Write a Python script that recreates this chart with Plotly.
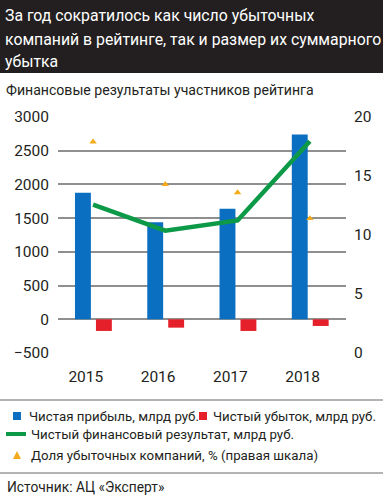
import plotly.graph_objects as go

years = ["2015", "2016", "2017", "2018"]
net_profit = [1875, 1440, 1640, 2740]
net_loss = [-173, -124, -173, -99]
net_result = [1700, 1315, 1465, 2640]
loss_share = [17.9, 14.3, 13.6, 11.4]

W, H = 383, 500
PL, PR, PT, PB = 58, 346, 117, 353

def px(x):
    return (x - PL) / (PR - PL)

def py(y):
    return (PB - y) / (PB - PT)

FONT = "Roboto, sans-serif"
DARK = "#231f20"
BLUE = "#0b6fc1"
RED = "#e6202a"
GREEN = "#0d9a48"
ORANGE = "#f5aa1c"
GRID = "#8f8f8f"

title_lines = ["За год сократилось как число убыточных",
               "компаний в рейтинге, так и размер их суммарного",
               "убытка"]

xs = list(range(len(years)))

fig = go.Figure()
fig.add_trace(go.Bar(x=xs, y=net_profit, width=0.22, offset=-0.25,
                     marker=dict(color=BLUE, line=dict(width=0)), name="Чистая прибыль, млрд руб."))
fig.add_trace(go.Bar(x=xs, y=net_loss, width=0.22, offset=0.04,
                     marker=dict(color=RED, line=dict(width=0)), name="Чистый убыток, млрд руб."))
fig.add_trace(go.Scatter(x=xs, y=net_result, mode="lines",
                         line=dict(color=GREEN, width=4.5), name="Чистый финансовый результат, млрд руб."))
fig.add_trace(go.Scatter(x=xs, y=loss_share, yaxis="y2", mode="markers",
                         marker=dict(symbol="triangle-up", size=6.5, color=ORANGE),
                         name="Доля убыточных компаний, % (правая шкала)"))

shapes = []
annotations = []

# title band
shapes.append(dict(type="rect", xref="paper", yref="paper", x0=px(0), x1=px(W), y0=py(73), y1=py(0),
                   fillcolor=DARK, line=dict(width=0), layer="below"))
for t, yy in zip(title_lines, (15, 39, 62)):
    annotations.append(dict(xref="paper", yref="paper", x=px(3), y=py(yy), xanchor="left", yanchor="middle",
                            showarrow=False, align="left", text=t,
                            font=dict(family=FONT, size=15.8, color="white")))
annotations.append(dict(xref="paper", yref="paper", x=px(4), y=py(90), xanchor="left", yanchor="middle",
                        showarrow=False, text="Финансовые результаты участников рейтинга",
                        font=dict(family=FONT, size=14.1, color=DARK)))

# separators
for yy in (400, 473):
    shapes.append(dict(type="line", xref="paper", yref="paper", x0=px(0), x1=px(W), y0=py(yy), y1=py(yy),
                       line=dict(color="#9a9a9a", width=1.5)))

# legend
lf = dict(family=FONT, size=13.3, color=DARK)
shapes.append(dict(type="rect", xref="paper", yref="paper", x0=px(13), x1=px(21), y0=py(420), y1=py(412),
                   fillcolor=BLUE, line=dict(width=0)))
annotations.append(dict(xref="paper", yref="paper", x=px(27), y=py(416), xanchor="left", yanchor="middle",
                        showarrow=False, text="Чистая прибыль, млрд руб.", font=lf))
shapes.append(dict(type="rect", xref="paper", yref="paper", x0=px(199), x1=px(207), y0=py(420), y1=py(412),
                   fillcolor=RED, line=dict(width=0)))
annotations.append(dict(xref="paper", yref="paper", x=px(211), y=py(416), xanchor="left", yanchor="middle",
                        showarrow=False, text="Чистый убыток, млрд руб.", font=lf))
shapes.append(dict(type="line", xref="paper", yref="paper", x0=px(6), x1=px(26), y0=py(434), y1=py(434),
                   line=dict(color=GREEN, width=4)))
annotations.append(dict(xref="paper", yref="paper", x=px(29), y=py(434), xanchor="left", yanchor="middle",
                        showarrow=False, text="Чистый финансовый результат, млрд руб.", font=lf))
tx, ty = 17, 455
shapes.append(dict(type="path", xref="paper", yref="paper",
                   path=f"M {px(tx-4)} {py(ty+4)} L {px(tx+4)} {py(ty+4)} L {px(tx)} {py(ty-4)} Z",
                   fillcolor=ORANGE, line=dict(width=0)))
annotations.append(dict(xref="paper", yref="paper", x=px(29), y=py(455), xanchor="left", yanchor="middle",
                        showarrow=False, text="Доля убыточных компаний, % (правая шкала)", font=lf))
annotations.append(dict(xref="paper", yref="paper", x=px(5), y=py(487), xanchor="left", yanchor="middle",
                        showarrow=False, text="Источник: АЦ «Эксперт»", font=dict(family=FONT, size=13.8, color=DARK)))

tickfont = dict(family=FONT, size=15.5, color=DARK)

fig.update_layout(
    width=W, height=H,
    margin=dict(l=PL, r=W - PR, t=PT, b=H - PB, pad=0),
    paper_bgcolor="white", plot_bgcolor="white",
    showlegend=False,
    barmode="overlay",
    shapes=shapes, annotations=annotations,
    xaxis=dict(range=[-0.485, 3.5], tickmode="array", tickvals=[i - 0.1 for i in xs], ticktext=years,
               showgrid=False, zeroline=False, showline=False, ticks="", tickfont=tickfont,
               ticklabelstandoff=12, fixedrange=True),
    yaxis=dict(range=[-500, 3000], tickvals=[-500, 0, 500, 1000, 1500, 2000, 2500, 3000],
               showgrid=True, gridcolor=GRID, gridwidth=1.5, zeroline=True, zerolinecolor=GRID,
               zerolinewidth=1.5, showline=False, ticks="", tickfont=tickfont, ticklabelstandoff=8),
    yaxis2=dict(range=[0, 20], tickvals=[0, 5, 10, 15, 20], overlaying="y", side="right",
                showgrid=False, zeroline=False, showline=False, ticks="", tickfont=tickfont,
                ticklabelstandoff=7),
)

fig.write_html("out.html", config={"displayModeBar": False},
               post_script="document.body.style.margin='0';document.body.style.padding='0';")
